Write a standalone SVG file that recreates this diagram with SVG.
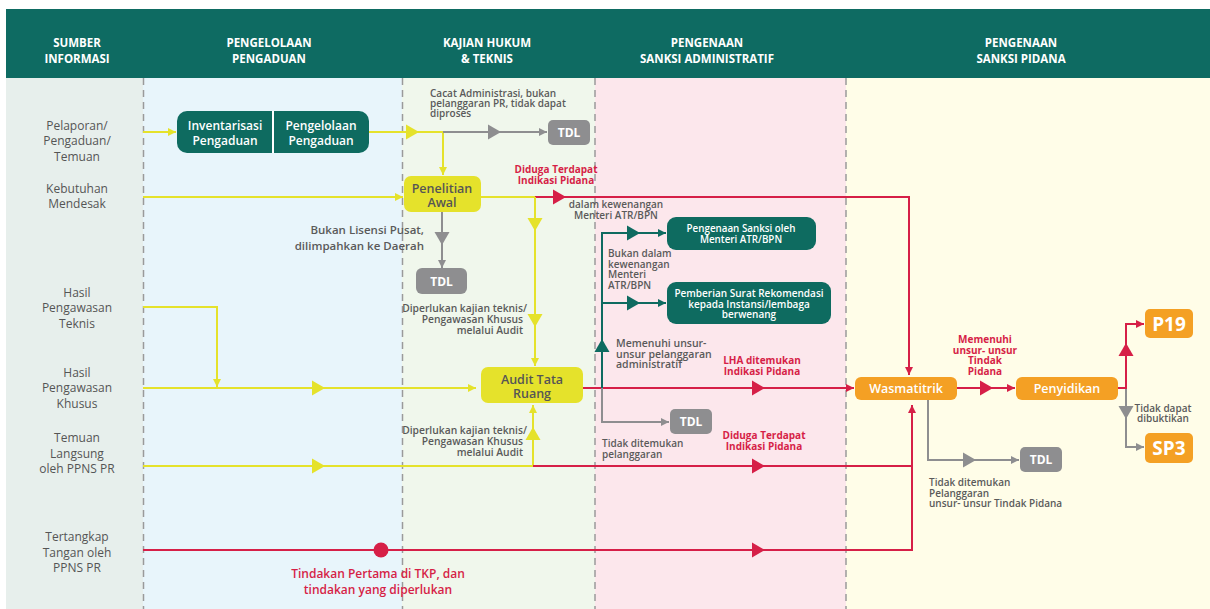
<svg xmlns="http://www.w3.org/2000/svg" width="1210" height="609" viewBox="0 0 1210 609">
<style>
text{font-family:"Open Sans","Noto Sans","Liberation Sans",sans-serif}
.hd{fill:#fff;font-size:11.5px;font-weight:700;text-anchor:middle}
.src{fill:#555;font-size:12px;text-anchor:middle}
.lbl{fill:#5a5a5a;font-size:10px;font-weight:600}
.red{fill:#d61f47;font-size:10px;font-weight:700;text-anchor:middle}
.wt{fill:#fff;font-weight:600;text-anchor:middle}
.yt{fill:#555;font-weight:600;text-anchor:middle;font-size:12.5px}
.tdl{fill:#fff;font-weight:700;text-anchor:middle;font-size:12px}
.dash{stroke:#9a9a9a;stroke-width:1.5;stroke-dasharray:7 5;fill:none}
.cy{stroke:#e5e22b;stroke-width:2;fill:none}
.cr{stroke:#d61f47;stroke-width:2;fill:none}
.cg{stroke:#8e8e90;stroke-width:2;fill:none}
.ct{stroke:#0e6b60;stroke-width:2;fill:none}
.teal{fill:#0e6b60}.yel{fill:#e5e22b}.gry{fill:#8e8e90}.org{fill:#f4a024}
</style>
<defs>
<path id="tri" d="M0,-7.5 L13,0 L0,7.5Z"/>
<marker id="aY" markerUnits="userSpaceOnUse" markerWidth="8" markerHeight="8" refX="8" refY="4" orient="auto"><path d="M0,0 L8,4 L0,8Z" fill="#e5e22b"/></marker>
<marker id="aR" markerUnits="userSpaceOnUse" markerWidth="8" markerHeight="8" refX="8" refY="4" orient="auto"><path d="M0,0 L8,4 L0,8Z" fill="#d61f47"/></marker>
<marker id="aG" markerUnits="userSpaceOnUse" markerWidth="8" markerHeight="8" refX="8" refY="4" orient="auto"><path d="M0,0 L8,4 L0,8Z" fill="#8e8e90"/></marker>
<marker id="aT" markerUnits="userSpaceOnUse" markerWidth="8" markerHeight="8" refX="8" refY="4" orient="auto"><path d="M0,0 L8,4 L0,8Z" fill="#0e6b60"/></marker>
</defs>

<rect width="1210" height="609" fill="#fff"/>
<g id="columns">
<rect x="6" y="78" width="137" height="531" fill="#e7efec"/>
<rect x="143" y="78" width="259" height="531" fill="#e8f5fb"/>
<rect x="402" y="78" width="193" height="531" fill="#f0f7ec"/>
<rect x="595" y="78" width="251" height="531" fill="#fce7ec"/>
<rect x="846" y="78" width="364" height="531" fill="#fffde8"/>
<path class="dash" d="M143.5,78V609M402.5,78V609M595,78V609M846,78V609"/>
</g>
<g id="header">
<rect x="6" y="9" width="1204" height="69" fill="#0e6b62"/>
<text class="hd" x="77" y="47">SUMBER<tspan x="77" dy="15.7">INFORMASI</tspan></text>
<text class="hd" x="269" y="47">PENGELOLAAN<tspan x="269" dy="15.7">PENGADUAN</tspan></text>
<text class="hd" x="487" y="47">KAJIAN HUKUM<tspan x="487" dy="15.7">&amp; TEKNIS</tspan></text>
<text class="hd" x="707" y="47">PENGENAAN<tspan x="707" dy="15.7">SANKSI ADMINISTRATIF</tspan></text>
<text class="hd" x="1021" y="47">PENGENAAN<tspan x="1021" dy="15.7">SANKSI PIDANA</tspan></text>
</g>
<g id="sources">
<text class="src" x="77" y="130">Pelaporan/<tspan x="77" dy="15.3">Pengaduan/</tspan><tspan x="77" dy="15.3">Temuan</tspan></text>
<text class="src" x="77" y="193">Kebutuhan<tspan x="77" dy="15.3">Mendesak</tspan></text>
<text class="src" x="77" y="297">Hasil<tspan x="77" dy="15.3">Pengawasan</tspan><tspan x="77" dy="15.3">Teknis</tspan></text>
<text class="src" x="77" y="377">Hasil<tspan x="77" dy="15.3">Pengawasan</tspan><tspan x="77" dy="15.3">Khusus</tspan></text>
<text class="src" x="77" y="442">Temuan<tspan x="77" dy="15.5">Langsung</tspan><tspan x="77" dy="15.5">oleh PPNS PR</tspan></text>
<text class="src" x="77" y="541">Tertangkap<tspan x="77" dy="15.5">Tangan oleh</tspan><tspan x="77" dy="15.5">PPNS PR</tspan></text>
</g>

<g id="connectors">
<path class="cy" d="M143,132H176" marker-end="url(#aY)"/>
<path class="cy" d="M369,132H443"/>
<path class="cy" d="M443,132V175" marker-end="url(#aY)"/>
<path class="cg" d="M443,132H547" marker-end="url(#aG)"/>
<path class="cy" d="M143,197H403" marker-end="url(#aY)"/>
<path class="cy" d="M481,197H535"/>
<path class="cr" d="M535,197H909V375" marker-end="url(#aR)"/>
<path class="cy" d="M535,197V366" marker-end="url(#aY)"/>
<path class="cg" d="M442,212V268" marker-end="url(#aG)"/>
<path class="cy" d="M143,307H217V387" marker-end="url(#aY)"/>
<path class="cy" d="M143,388H476" marker-end="url(#aY)"/>
<path class="cy" d="M143,466H533V405" marker-end="url(#aY)"/>
<path class="cr" d="M533,466H912"/>
<path class="cr" d="M143,550H912V405" marker-end="url(#aR)"/>
<path class="cr" d="M583,388H854" marker-end="url(#aR)"/>
<path class="ct" d="M602,388V233H666" marker-end="url(#aT)"/>
<path class="ct" d="M602,303H666" marker-end="url(#aT)"/>
<path class="cg" d="M602,388V422H669" marker-end="url(#aG)"/>
<path class="cr" d="M957,388H1015" marker-end="url(#aR)"/>
<path class="cr" d="M1118,388H1126V324H1144" marker-end="url(#aR)"/>
<path class="cg" d="M1126,389V447H1144" marker-end="url(#aG)"/>
<path class="cg" d="M928,400V460H1019" marker-end="url(#aG)"/>
<circle cx="381" cy="550" r="7.5" fill="#d61f47"/>
<use href="#tri" fill="#e5e22b" transform="translate(406,132)"/>
<use href="#tri" fill="#8e8e90" transform="translate(488,132)"/>
<use href="#tri" fill="#d61f47" transform="translate(553,197)"/>
<use href="#tri" fill="#e5e22b" transform="translate(535,218) rotate(90)"/>
<use href="#tri" fill="#e5e22b" transform="translate(535,314) rotate(90)"/>
<use href="#tri" fill="#8e8e90" transform="translate(442,232) rotate(90)"/>
<use href="#tri" fill="#e5e22b" transform="translate(312,388)"/>
<use href="#tri" fill="#e5e22b" transform="translate(312,466)"/>
<use href="#tri" fill="#e5e22b" transform="translate(533,440) rotate(-90)"/>
<use href="#tri" fill="#d61f47" transform="translate(752,388)"/>
<use href="#tri" fill="#d61f47" transform="translate(752,466)"/>
<use href="#tri" fill="#d61f47" transform="translate(752,550)"/>
<use href="#tri" fill="#0e6b60" transform="translate(602,352) rotate(-90)"/>
<use href="#tri" fill="#0e6b60" transform="translate(627,233)"/>
<use href="#tri" fill="#0e6b60" transform="translate(627,303)"/>
<use href="#tri" fill="#d61f47" transform="translate(980,388)"/>
<use href="#tri" fill="#d61f47" transform="translate(1126,356) rotate(-90)"/>
<use href="#tri" fill="#8e8e90" transform="translate(1126,406) rotate(90)"/>
<use href="#tri" fill="#8e8e90" transform="translate(963,460)"/>
</g>

<g id="labels">
<text class="lbl" x="430" y="97">Cacat Administrasi, bukan<tspan x="430" dy="10">pelanggaran PR, tidak dapat</tspan><tspan x="430" dy="10">diproses</tspan></text>
<text class="red" x="556" y="173">Diduga Terdapat<tspan x="556" dy="11">Indikasi Pidana</tspan></text>
<text class="lbl" x="616" y="208" text-anchor="middle">dalam kewenangan<tspan x="616" dy="11">Menteri ATR/BPN</tspan></text>
<text class="lbl" x="424" y="234" text-anchor="end" style="font-size:11.5px">Bukan Lisensi Pusat,<tspan x="424" dy="15.7">dilimpahkan ke Daerah</tspan></text>
<text class="lbl" x="527" y="312" text-anchor="end" style="font-size:10.3px">Diperlukan kajian teknis/<tspan x="523" dy="11">Pengawasan Khusus</tspan><tspan x="523" dy="11">melalui Audit</tspan></text>
<text class="lbl" x="527" y="434" text-anchor="end" style="font-size:10.3px">Diperlukan kajian teknis/<tspan x="523" dy="11">Pengawasan Khusus</tspan><tspan x="523" dy="11">melalui Audit</tspan></text>
<text class="lbl" x="608" y="257">Bukan dalam<tspan x="608" dy="10.5">kewenangan</tspan><tspan x="608" dy="10.5">Menteri</tspan><tspan x="608" dy="10.5">ATR/BPN</tspan></text>
<text class="lbl" x="616" y="347" style="font-size:10.5px">Memenuhi unsur-<tspan x="616" dy="10.5">unsur pelanggaran</tspan><tspan x="616" dy="10.5">administratif</tspan></text>
<text class="red" x="762" y="364">LHA ditemukan<tspan x="762" dy="11">Indikasi Pidana</tspan></text>
<text class="red" x="764" y="439">Diduga Terdapat<tspan x="764" dy="11">Indikasi Pidana</tspan></text>
<text class="lbl" x="602" y="447">Tidak ditemukan<tspan x="602" dy="11">pelanggaran</tspan></text>
<text class="red" x="985" y="343">Memenuhi<tspan x="985" dy="10.7">unsur- unsur</tspan><tspan x="985" dy="10.7">Tindak</tspan><tspan x="985" dy="10.7">Pidana</tspan></text>
<text class="lbl" x="1163" y="412" text-anchor="middle">Tidak dapat<tspan x="1163" dy="10">dibuktikan</tspan></text>
<text class="lbl" x="929" y="486">Tidak ditemukan<tspan x="929" dy="10.5">Pelanggaran</tspan><tspan x="929" dy="10.5">unsur- unsur Tindak Pidana</tspan></text>
<text class="red" x="378" y="578" style="font-size:12px;font-weight:600">Tindakan Pertama di TKP, dan<tspan x="378" dy="16.4">tindakan yang diperlukan</tspan></text>
</g>

<g id="n-pengaduan">
<rect class="teal" x="177" y="111" width="192" height="42" rx="10"/>
<line x1="273" y1="111" x2="273" y2="153" stroke="#fff" stroke-width="2"/>
<text class="wt" x="225" y="130" style="font-size:12px">Inventarisasi<tspan x="225" dy="15">Pengaduan</tspan></text>
<text class="wt" x="321" y="130" style="font-size:12px">Pengelolaan<tspan x="321" dy="15">Pengaduan</tspan></text>
</g>
<g id="n-tdl1"><rect class="gry" x="548" y="120" width="42" height="25" rx="5"/><text class="tdl" x="569" y="137">TDL</text></g>
<g id="n-penelitian"><rect class="yel" x="404" y="176" width="77" height="36" rx="7"/><text class="yt" x="442" y="193">Penelitian<tspan x="442" dy="14">Awal</tspan></text></g>
<g id="n-tdl2"><rect class="gry" x="416" y="268" width="51" height="26" rx="6"/><text class="tdl" x="441.5" y="285.5">TDL</text></g>
<g id="n-audit"><rect class="yel" x="481" y="367" width="102" height="36" rx="7"/><text class="yt" x="532" y="384">Audit Tata<tspan x="532" dy="14">Ruang</tspan></text></g>
<g id="n-sanksi-menteri"><rect class="teal" x="667" y="217" width="149" height="33" rx="9"/><text class="wt" x="741" y="232" style="font-size:9.8px">Pengenaan Sanksi oleh<tspan x="741" dy="11">Menteri ATR/BPN</tspan></text></g>
<g id="n-rekomendasi"><rect class="teal" x="667" y="282" width="164" height="42" rx="9"/><text class="wt" x="749" y="297" style="font-size:10px">Pemberian Surat Rekomendasi<tspan x="749" dy="10.5">kepada Instansi/lembaga</tspan><tspan x="749" dy="10.5">berwenang</tspan></text></g>
<g id="n-tdl3"><rect class="gry" x="670" y="409" width="42" height="25" rx="5"/><text class="tdl" x="691" y="426">TDL</text></g>
<g id="n-wasmatitrik"><rect class="org" x="855" y="377" width="102" height="23" rx="6"/><text class="wt" x="906" y="393" style="font-size:12.5px">Wasmatitrik</text></g>
<g id="n-penyidikan"><rect class="org" x="1016" y="377" width="102" height="23" rx="6"/><text class="wt" x="1067" y="393" style="font-size:12.5px">Penyidikan</text></g>
<g id="n-p19"><rect class="org" x="1145" y="309" width="48" height="29" rx="5"/><text class="wt" x="1169" y="331" style="font-size:19px;font-weight:700">P19</text></g>
<g id="n-sp3"><rect class="org" x="1145" y="433" width="48" height="30" rx="5"/><text class="wt" x="1169" y="455" style="font-size:19px;font-weight:700">SP3</text></g>
<g id="n-tdl4"><rect class="gry" x="1020" y="447" width="42" height="25" rx="5"/><text class="tdl" x="1041" y="464">TDL</text></g>
</svg>
